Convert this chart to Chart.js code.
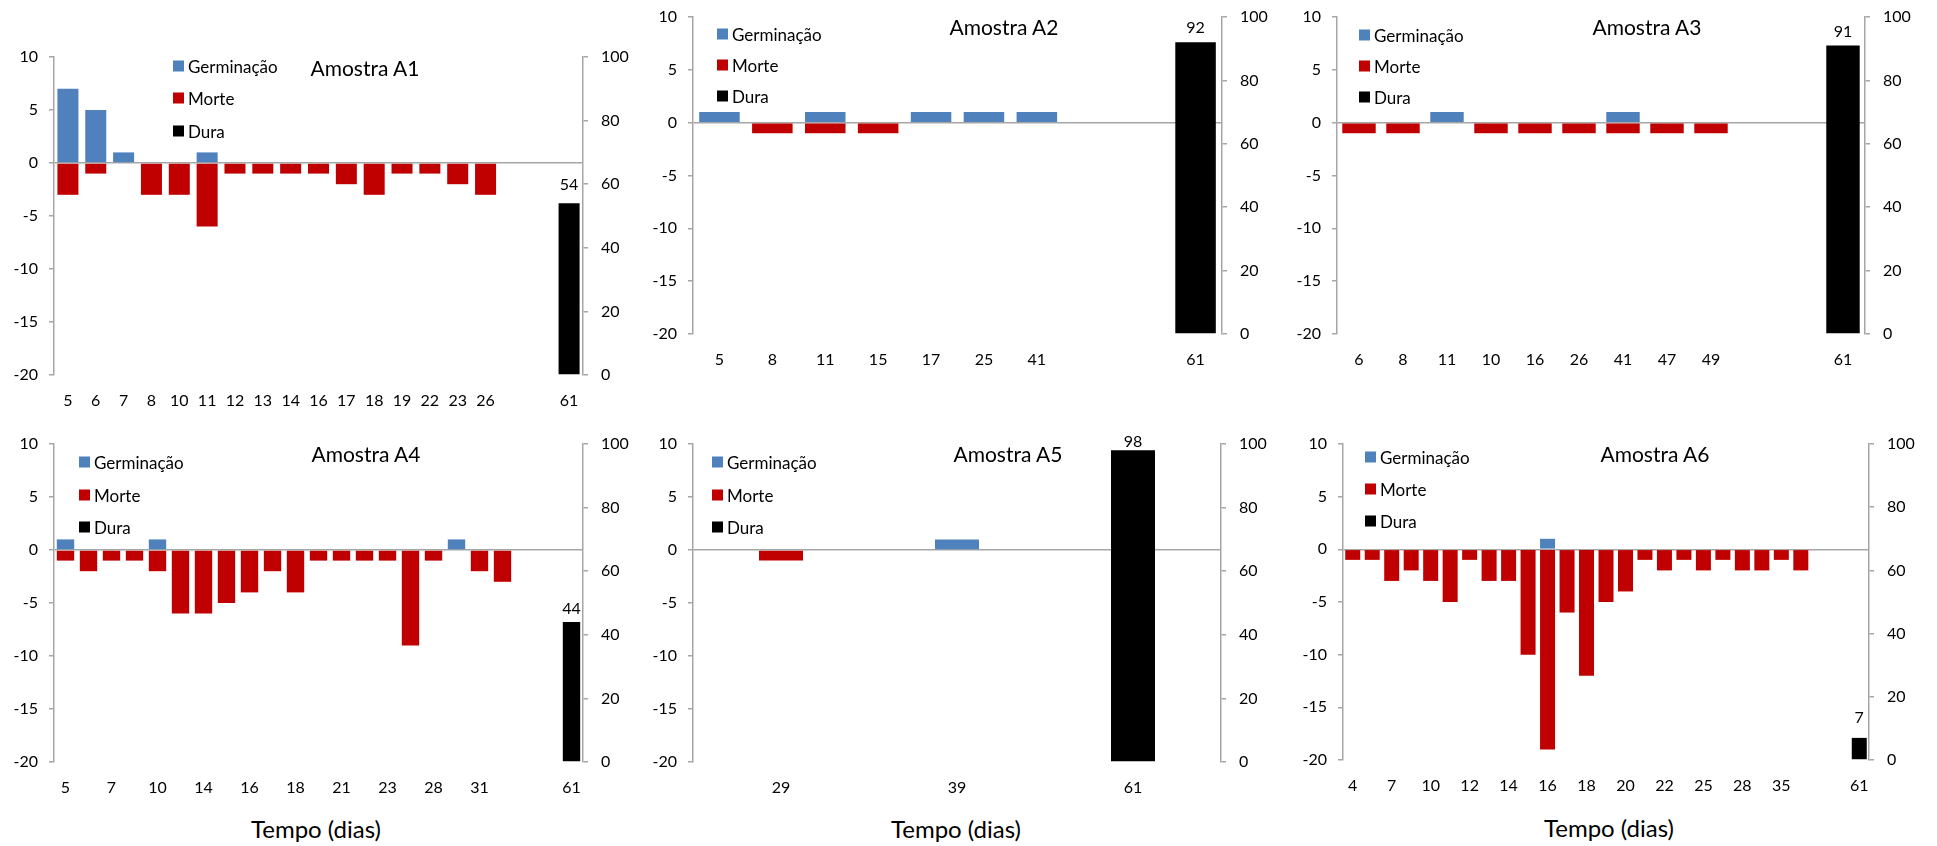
<!DOCTYPE html>
<html>
<head>
<meta charset="utf-8">
<script src="https://cdn.jsdelivr.net/npm/chart.js@4.4.1/dist/chart.umd.min.js"></script>
<style>
  body { margin: 0; background: #fff; width: 1937px; height: 846px; overflow: hidden; position: relative; font-family: Lato, sans-serif; color: #000; }
  canvas { position: absolute; }
  .title { position: absolute; font-size: 21px; transform: translate(-50%, -50%); white-space: nowrap; }
  .xtitle { position: absolute; font-size: 24px; transform: translate(-50%, -50%); white-space: nowrap; }
  .leg { position: absolute; font-size: 17px; white-space: nowrap; display: flex; align-items: center; transform: translateY(-50%); }
  .leg i { display: inline-block; width: 11px; height: 11px; margin-right: 4px; }
</style>
</head>
<body>
<script>
// Series names and colours
const seriesNames = ['Germinação', 'Morte', 'Dura'];
const seriesColors = ['#4f81bd', '#c00000', '#000000'];

// Amostra A1
const a1Days  = ['5', '6', '7', '8', '10', '11', '12', '13', '14', '16', '17', '18', '19', '22', '23', '26', '', '', '61'];
const a1Germ  = [7, 5, 1, 0, 0, 1, 0, 0, 0, 0, 0, 0, 0, 0, 0, 0, null, null, null];
const a1Morte = [-3, -1, 0, -3, -3, -6, -1, -1, -1, -1, -2, -3, -1, -1, -2, -3, null, null, null];
const a1Dura  = 54;

// Amostra A2
const a2Days  = ['5', '8', '11', '15', '17', '25', '41', '', '', '61'];
const a2Germ  = [1, 0, 1, 0, 1, 1, 1, null, null, null];
const a2Morte = [0, -1, -1, -1, 0, 0, 0, null, null, null];
const a2Dura  = 92;

// Amostra A3
const a3Days  = ['6', '8', '11', '10', '16', '26', '41', '47', '49', '', '', '61'];
const a3Germ  = [0, 0, 1, 0, 0, 0, 1, 0, 0, null, null, null];
const a3Morte = [-1, -1, 0, -1, -1, -1, -1, -1, -1, null, null, null];
const a3Dura  = 91;

// Amostra A4 (only every other day label is printed)
const a4Days  = ['5', '6', '7', '8', '10', '12', '14', '15', '16', '17', '18', '19', '21', '22', '23', '26', '28', '30', '31', '33', '', '', '61'];
const a4Germ  = [1, 0, 0, 0, 1, 0, 0, 0, 0, 0, 0, 0, 0, 0, 0, 0, 0, 1, 0, 0, null, null, null];
const a4Morte = [-1, -2, -1, -1, -2, -6, -6, -5, -4, -2, -4, -1, -1, -1, -1, -9, -1, 0, -2, -3, null, null, null];
const a4Dura  = 44;

// Amostra A5
const a5Days  = ['29', '39', '61'];
const a5Germ  = [0, 1, null];
const a5Morte = [-1, 0, null];
const a5Dura  = 98;

// Amostra A6 (only every other day label is printed)
const a6Days  = ['4', '5', '7', '8', '10', '11', '12', '13', '14', '15', '16', '17', '18', '19', '20', '21', '22', '24', '25', '27', '28', '33', '35', '40', '', '', '61'];
const a6Germ  = [0, 0, 0, 0, 0, 0, 0, 0, 0, 0, 1, 0, 0, 0, 0, 0, 0, 0, 0, 0, 0, 0, 0, 0, null, null, null];
const a6Morte = [-1, -1, -3, -2, -3, -5, -1, -3, -3, -10, -19, -6, -12, -5, -4, -1, -2, -1, -2, -1, -2, -2, -1, -2, null, null, null];
const a6Dura  = 7;

// Axis ticks
const leftTicks = { min: -20, max: 10, step: 5 };
const rightTicks = { min: 0, max: 100, step: 20 };
const xAxisTitle = 'Tempo (dias)';

// Layout of each panel: plot area [left, top, right, bottom] in page pixels
const panels = [
    { title: 'Amostra A1', days: a1Days, germ: a1Germ, morte: a1Morte, dura: a1Dura, area: [54, 57, 583, 375], bar: 0.755, every: 1, titleAt: [365, 67], legendAt: [173, 66, 32.3], gap: 18 },
    { title: 'Amostra A2', days: a2Days, germ: a2Germ, morte: a2Morte, dura: a2Dura, area: [693, 17, 1222, 334], bar: 0.766, every: 1, titleAt: [1004, 26], legendAt: [717, 34, 31], gap: 15 },
    { title: 'Amostra A3', days: a3Days, germ: a3Germ, morte: a3Morte, dura: a3Dura, area: [1337, 17, 1865, 334], bar: 0.76, every: 1, titleAt: [1647, 26], legendAt: [1359, 35, 31], gap: 14 },
    { title: 'Amostra A4', days: a4Days, germ: a4Germ, morte: a4Morte, dura: a4Dura, area: [54, 444, 583, 762], bar: 0.756, every: 2, titleAt: [366, 453], legendAt: [79, 462, 32.5], gap: 13, xTitleAt: [316, 828] },
    { title: 'Amostra A5', days: a5Days, germ: a5Germ, morte: a5Morte, dura: a5Dura, area: [693, 444, 1221, 762], bar: 0.25, every: 1, titleAt: [1008, 453], legendAt: [712, 462, 32.5], gap: 9, xTitleAt: [956, 828] },
    { title: 'Amostra A6', days: a6Days, germ: a6Germ, morte: a6Morte, dura: a6Dura, area: [1343, 444, 1869, 760], bar: 0.77, every: 2, titleAt: [1655, 453], legendAt: [1365, 457, 32.2], gap: 20, xTitleAt: [1609, 827] }
];

const tickFont = { family: 'Lato', size: 16 };
const axisGrey = '#a6a6a6';

// Writes the value above the Dura bar
const duraLabel = {
    id: 'duraLabel',
    afterDatasetsDraw(chart, args, opts) {
        const meta = chart.getDatasetMeta(2);
        const values = chart.data.datasets[2].data;
        const ctx = chart.ctx;
        ctx.save();
        ctx.font = '16px Lato';
        ctx.fillStyle = '#000';
        ctx.textAlign = 'center';
        ctx.textBaseline = 'middle';
        meta.data.forEach((bar, i) => {
            if (values[i] == null) return;
            ctx.fillText(values[i], bar.x, bar.y - opts.gap);
        });
        ctx.restore();
    }
};

function addText(cls, text, x, y) {
    const el = document.createElement('div');
    el.className = cls;
    el.textContent = text;
    el.style.left = x + 'px';
    el.style.top = y + 'px';
    document.body.appendChild(el);
}

panels.forEach(p => {
    const [L, T, R, B] = p.area;
    const padTop = 30, leftW = 50, rightW = 60, axisH = 40;
    const canvas = document.createElement('canvas');
    canvas.width = R - L + leftW + rightW;
    canvas.height = B - T + padTop + axisH;
    canvas.style.left = (L - leftW) + 'px';
    canvas.style.top = (T - padTop) + 'px';
    document.body.appendChild(canvas);

    const duraData = p.days.map((d, i) => i === p.days.length - 1 ? p.dura : null);

    new Chart(canvas, {
        type: 'bar',
        data: {
            labels: p.days,
            datasets: [
                { label: seriesNames[0], data: p.germ, backgroundColor: seriesColors[0], yAxisID: 'y' },
                { label: seriesNames[1], data: p.morte, backgroundColor: seriesColors[1], yAxisID: 'y' },
                { label: seriesNames[2], data: duraData, backgroundColor: seriesColors[2], yAxisID: 'y1' }
            ]
        },
        options: {
            responsive: false,
            animation: false,
            categoryPercentage: 1,
            barPercentage: p.bar,
            layout: { padding: { top: padTop, left: 0, right: 0, bottom: 0 } },
            scales: {
                x: {
                    stacked: true,
                    grid: { display: false, drawTicks: false },
                    border: { display: false },
                    ticks: {
                        autoSkip: false,
                        maxRotation: 0,
                        padding: 16,
                        color: '#000',
                        font: tickFont,
                        callback: (v, i) => i % p.every === 0 ? p.days[i] : ''
                    },
                    afterFit: s => { s.height = axisH; }
                },
                y: {
                    position: 'left',
                    min: leftTicks.min,
                    max: leftTicks.max,
                    z: 1,
                    ticks: { stepSize: leftTicks.step, padding: 11, color: '#000', font: tickFont },
                    grid: {
                        color: c => c.tick && c.tick.value === 0 ? axisGrey : 'rgba(0,0,0,0)',
                        tickColor: axisGrey,
                        tickLength: 5,
                        lineWidth: 1.5
                    },
                    border: { color: axisGrey, width: 1.5 },
                    afterFit: s => { s.width = leftW; }
                },
                y1: {
                    position: 'right',
                    min: rightTicks.min,
                    max: rightTicks.max,
                    ticks: { stepSize: rightTicks.step, padding: 13, color: '#000', font: tickFont },
                    grid: { drawOnChartArea: false, color: axisGrey, tickLength: 5, lineWidth: 1.5 },
                    border: { color: axisGrey, width: 1.5 },
                    afterFit: s => { s.width = rightW; }
                }
            },
            plugins: {
                legend: { display: false },
                tooltip: { enabled: false },
                duraLabel: { gap: p.gap }
            }
        },
        plugins: [duraLabel]
    });

    addText('title', p.title, p.titleAt[0], p.titleAt[1]);
    seriesNames.forEach((name, k) => {
        const el = document.createElement('div');
        el.className = 'leg';
        el.innerHTML = `<i style="background:${seriesColors[k]}"></i>${name}`;
        el.style.left = p.legendAt[0] + 'px';
        el.style.top = (p.legendAt[1] + k * p.legendAt[2]) + 'px';
        document.body.appendChild(el);
    });
    if (p.xTitleAt) addText('xtitle', xAxisTitle, p.xTitleAt[0], p.xTitleAt[1]);
});
</script>
</body>
</html>
